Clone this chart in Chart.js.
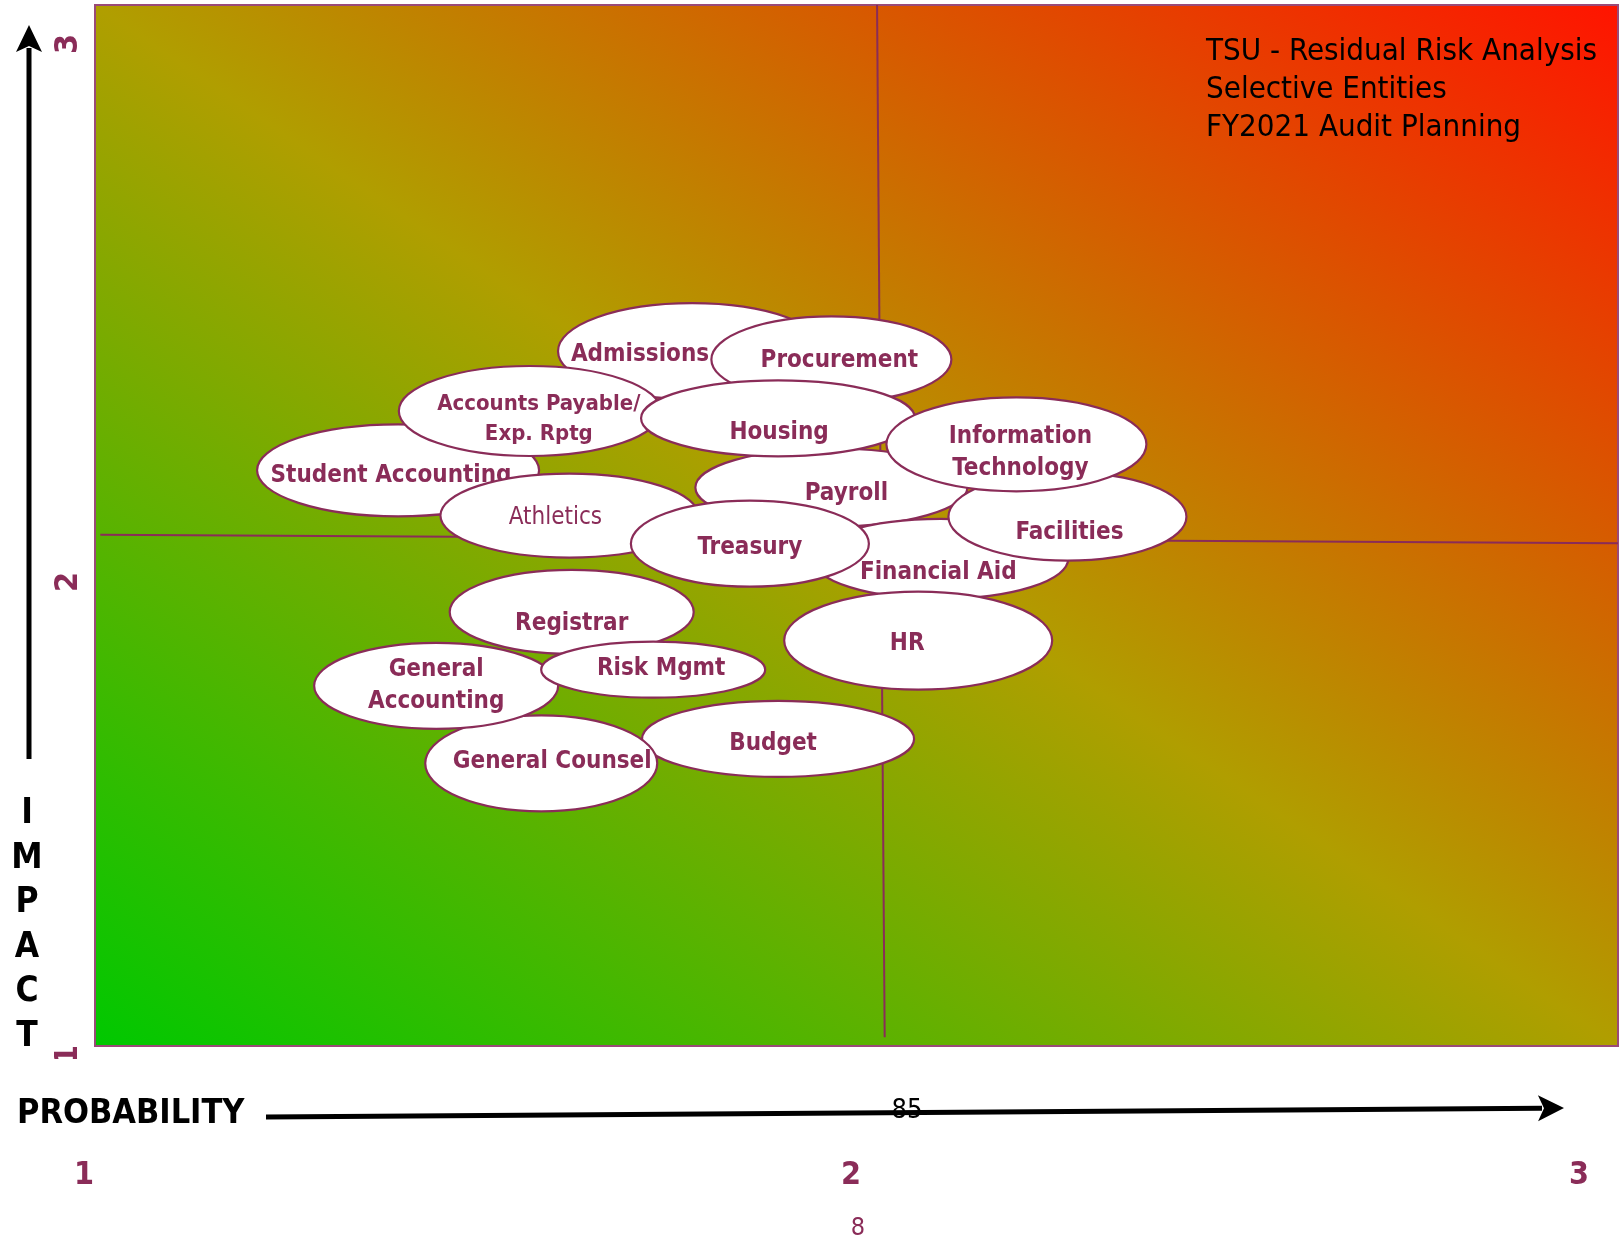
<!DOCTYPE html>
<html>
<head>
<meta charset="utf-8">
<script src="https://cdn.jsdelivr.net/npm/chart.js@4.4.1/dist/chart.umd.min.js"></script>
<style>
  html, body { margin: 0; padding: 0; background: #fff; }
  #wrap { width: 1620px; height: 1239px; position: relative; }
</style>
</head>
<body>
<div id="wrap"><canvas id="risk" width="1620" height="1239"></canvas></div>
<script>
/* Residual risk matrix: entities placed by probability (x) and impact (y), 1..3 */

// entities, in drawing order (later ones sit on top)
const entities = [
  "Admissions", "Procurement", "Student Accounting", "Accounts Payable/\nExp. Rptg",
  "Payroll", "Housing", "Financial Aid", "Facilities", "Information\nTechnology",
  "Athletics", "Treasury", "HR", "Registrar", "Budget", "General Counsel",
  "General\nAccounting", "Risk Mgmt",
];
const probability = [1.784, 1.967, 1.398, 1.571, 1.967, 1.897, 2.110, 2.277, 2.210,
  1.623, 1.860, 2.081, 1.626, 1.897, 1.586, 1.448, 1.733];
const impact = [2.335, 2.319, 2.106, 2.220, 2.073, 2.206, 1.936, 2.017, 2.156,
  2.019, 1.965, 1.779, 1.834, 1.590, 1.543, 1.692, 1.723];

// quadrant split lines (probability, impact)
const vSplitX = [2.027, 2.037];
const vSplitY = [3.0, 1.017];
const hSplitX = [1.007, 3.0];
const hSplitY = [1.982, 1.966];

const probTicks = ["1", "2", "3"];
const impactTicks = ["3", "2", "1"];
const titleLines = ["TSU - Residual Risk Analysis", "Selective Entities", "FY2021 Audit Planning"];

// ---- styling (px) ----
const bubbleRx = [134, 120, 141, 131, 136, 137, 128, 119, 130, 129, 119, 134, 122, 136, 116, 122, 112];
const bubbleRy = [48, 43, 46, 45, 39, 38, 40, 44, 47, 42, 43, 49, 42, 38, 48, 43, 28];
const labelDx = [-52, 8, -7, 9, 15, 1, -2, 2, 4, -14, 0, -11, 0, -5, 11, 0, 8];
const labelDy = [4, 1, 5, 8, 6, 14, 14, 16, 8, 2, 4, 3, 12, 5, -2, 0, -1];
const labelSize = [24, 24, 24, 22, 24, 24, 24, 24, 24, 24, 24, 24, 24, 24, 24, 24, 24];
const labelWeight = ["bold", "bold", "bold", "bold", "bold", "bold", "bold", "bold", "bold",
  "normal", "bold", "bold", "bold", "bold", "bold", "bold", "bold"];

const FONT = '"DejaVu Sans Condensed", "DejaVu Sans", sans-serif';
const PLUM = "#8a2c58";

const toXY = (xs, ys) => xs.map((x, i) => ({ x, y: ys[i] }));

function arrow(ctx, x0, y0, x1, y1, head, half) {
  const a = Math.atan2(y1 - y0, x1 - x0);
  const bx = x1 - Math.cos(a) * head, by = y1 - Math.sin(a) * head;
  ctx.beginPath();
  ctx.moveTo(x0, y0);
  ctx.lineTo(bx + Math.cos(a) * 4, by + Math.sin(a) * 4);
  ctx.stroke();
  ctx.beginPath();
  ctx.moveTo(x1, y1);
  ctx.lineTo(bx - Math.sin(a) * half, by + Math.cos(a) * half);
  ctx.lineTo(bx + Math.cos(a) * 6, by + Math.sin(a) * 6);
  ctx.lineTo(bx + Math.sin(a) * half, by - Math.cos(a) * half);
  ctx.closePath();
  ctx.fill();
}

const riskPlugin = {
  id: "riskMatrix",
  beforeDatasetsDraw(chart) {
    const { ctx, chartArea: a } = chart;
    ctx.save();
    // gradient in unit-square space so the diagonal runs corner to corner at 45deg
    ctx.translate(a.left, a.bottom);
    ctx.scale(a.right - a.left, -(a.bottom - a.top));
    const g = ctx.createLinearGradient(0, 0, 1, 1);
    g.addColorStop(0, "#00c800");
    g.addColorStop(0.5, "#b09e00");
    g.addColorStop(1, "#ff1400");
    ctx.fillStyle = g;
    ctx.fillRect(0, 0, 1, 1);
    ctx.restore();
    ctx.save();
    ctx.strokeStyle = "#9a4a78";
    ctx.lineWidth = 2;
    ctx.strokeRect(a.left, a.top, a.right - a.left, a.bottom - a.top);
    ctx.restore();
  },
  afterDatasetsDraw(chart) {
    const { ctx } = chart;
    const meta = chart.getDatasetMeta(2);
    ctx.save();
    meta.data.forEach((pt, i) => {
      ctx.beginPath();
      ctx.ellipse(pt.x, pt.y, bubbleRx[i], bubbleRy[i], 0, 0, Math.PI * 2);
      ctx.fillStyle = "#fff";
      ctx.fill();
      ctx.lineWidth = 2.2;
      ctx.strokeStyle = PLUM;
      ctx.stroke();

      const lines = entities[i].split("\n");
      const lh = labelSize[i] + 8;
      ctx.font = `${labelWeight[i]} ${labelSize[i]}px ${FONT}`;
      ctx.fillStyle = PLUM;
      ctx.textAlign = "center";
      ctx.textBaseline = "middle";
      lines.forEach((ln, k) => {
        const off = (k - (lines.length - 1) / 2) * lh;
        ctx.fillText(ln, pt.x + labelDx[i], pt.y + labelDy[i] + off);
      });
    });
    ctx.restore();
  },
  afterDraw(chart) {
    const { ctx } = chart;
    ctx.save();

    // title block
    ctx.fillStyle = "#000";
    ctx.font = `normal 31px ${FONT}`;
    ctx.textAlign = "left";
    ctx.textBaseline = "alphabetic";
    titleLines.forEach((t, i) => ctx.fillText(t, 1206, 60 + i * 38));

    // axis arrows
    ctx.strokeStyle = "#000";
    ctx.fillStyle = "#000";
    ctx.lineWidth = 5;
    arrow(ctx, 29, 759, 29, 25, 27, 13);
    arrow(ctx, 266, 1117, 1564, 1108, 26, 13);

    // axis titles
    ctx.font = `bold 35px ${FONT}`;
    ctx.textAlign = "center";
    ctx.textBaseline = "middle";
    "IMPACT".split("").forEach((ch, i) => ctx.fillText(ch, 27, 814 + i * 44.6));
    ctx.font = `bold 34px ${FONT}`;
    ctx.textAlign = "left";
    ctx.fillText("PROBABILITY", 17, 1114);

    ctx.font = `normal 27px ${FONT}`;
    ctx.textAlign = "center";
    ctx.fillText("85", 907, 1111);

    // tick labels
    ctx.fillStyle = PLUM;
    ctx.font = `bold 32px ${FONT}`;
    const probTickX = [84, 851, 1579];
    probTicks.forEach((t, i) => ctx.fillText(t, probTickX[i], 1176));

    const impactTickY = [44, 582, 1055];
    ctx.save();
    ctx.beginPath();
    ctx.rect(0, 0, 200, 1059);
    ctx.clip();
    impactTicks.forEach((t, i) => {
      ctx.save();
      ctx.translate(69, impactTickY[i]);
      ctx.rotate(-Math.PI / 2);
      ctx.fillText(t, 0, 0);
      ctx.restore();
    });
    ctx.restore();

    ctx.font = `normal 25px ${FONT}`;
    ctx.fillText("8", 858, 1228);
    ctx.restore();
  },
};

new Chart(document.getElementById("risk"), {
  type: "scatter",
  data: {
    datasets: [
      { data: toXY(vSplitX, vSplitY), showLine: true, borderColor: PLUM, borderWidth: 2, pointRadius: 0 },
      { data: toXY(hSplitX, hSplitY), showLine: true, borderColor: PLUM, borderWidth: 2, pointRadius: 0 },
      { data: toXY(probability, impact), pointRadius: 0, pointHoverRadius: 0 },
    ],
  },
  options: {
    responsive: false,
    devicePixelRatio: 1,
    animation: false,
    events: [],
    layout: { padding: { left: 95, top: 5, right: 2, bottom: 193 } },
    scales: {
      x: { type: "linear", min: 1, max: 3, display: false },
      y: { type: "linear", min: 1, max: 3, display: false },
    },
    plugins: { legend: { display: false }, tooltip: { enabled: false } },
  },
  plugins: [riskPlugin],
});
</script>
</body>
</html>
